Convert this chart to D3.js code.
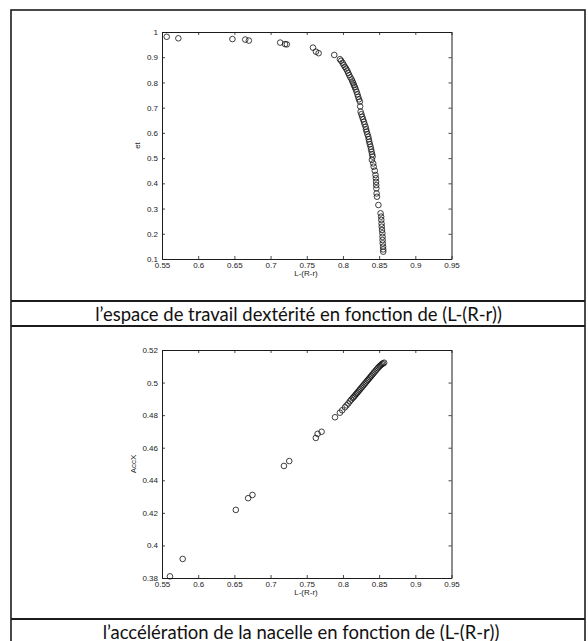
<!DOCTYPE html>
<html>
<head>
<meta charset="utf-8">
<script src="https://cdn.jsdelivr.net/npm/d3@7"></script>
<style>
  body { margin: 0; background: #fff; }
  svg { display: block; }
</style>
</head>
<body>
<svg id="page" width="588" height="641"></svg>
<script>
// chart 1: dexterity (et) vs L-(R-r)
const xDex = [0.5565, 0.5726, 0.6473, 0.665, 0.670, 0.7133, 0.720, 0.7225, 0.7586, 0.7627, 0.7664, 0.788,
  0.7958, 0.7975, 0.7995, 0.801, 0.8027, 0.8043, 0.8059, 0.8073, 0.8087, 0.8103, 0.812, 0.8131, 0.8142,
  0.8153, 0.8165, 0.8177, 0.8189, 0.820, 0.821, 0.8222, 0.8234, 0.8238, 0.8244, 0.8255, 0.8266, 0.8278,
  0.829, 0.830, 0.8313, 0.832, 0.8327, 0.8338, 0.835, 0.8357, 0.8363, 0.8372, 0.8382, 0.8389, 0.8396,
  0.8403, 0.841, 0.840, 0.8418, 0.8425, 0.844, 0.845, 0.8455, 0.8458, 0.846, 0.8462, 0.8465, 0.847,
  0.849, 0.852, 0.8528, 0.853, 0.8534, 0.8536, 0.854, 0.8545, 0.8547, 0.8548, 0.855, 0.8555, 0.8556, 0.8557];
const etDex = [0.981, 0.975, 0.972, 0.970, 0.966, 0.958, 0.952, 0.951, 0.938, 0.922, 0.916, 0.909,
  0.892, 0.886, 0.878, 0.870, 0.862, 0.855, 0.847, 0.838, 0.829, 0.820, 0.812, 0.804, 0.797,
  0.789, 0.781, 0.772, 0.763, 0.753, 0.743, 0.733, 0.724, 0.705, 0.684, 0.674, 0.664, 0.654,
  0.644, 0.634, 0.624, 0.614, 0.605, 0.595, 0.585, 0.575, 0.565, 0.555, 0.545, 0.535, 0.525,
  0.515, 0.506, 0.493, 0.479, 0.466, 0.450, 0.433, 0.420, 0.406, 0.393, 0.380, 0.360, 0.347,
  0.314, 0.281, 0.268, 0.255, 0.240, 0.228, 0.215, 0.202, 0.188, 0.175, 0.162, 0.149, 0.138, 0.129];

// chart 2: platform acceleration (AccX) vs L-(R-r)
const xAcc = [0.561, 0.5786, 0.652, 0.669, 0.675, 0.7185, 0.7258, 0.7625, 0.765, 0.7705, 0.789,
  0.7958, 0.799, 0.8027, 0.805, 0.8075, 0.8096, 0.8115, 0.8135, 0.815, 0.8165, 0.818, 0.8195, 0.821,
  0.8225, 0.824, 0.8255, 0.827, 0.8285, 0.830, 0.8315, 0.833, 0.8345, 0.836, 0.8375, 0.839, 0.8405,
  0.842, 0.8435, 0.845, 0.8465, 0.848, 0.8495, 0.851, 0.8525, 0.854, 0.8555, 0.857];
const accX = [0.381, 0.3917, 0.4218, 0.429, 0.431, 0.4488, 0.4518, 0.466, 0.4685, 0.4698, 0.4787,
  0.4815, 0.483, 0.4848, 0.486, 0.4872, 0.4885, 0.4895, 0.4905, 0.4912, 0.492, 0.4928, 0.4936, 0.4944,
  0.4952, 0.496, 0.4968, 0.4976, 0.4984, 0.4992, 0.500, 0.5008, 0.5016, 0.5024, 0.5032, 0.504, 0.5048,
  0.5056, 0.5064, 0.5072, 0.508, 0.5088, 0.5095, 0.5102, 0.5108, 0.5114, 0.5118, 0.5122];

const xTicks = [0.55, 0.6, 0.65, 0.7, 0.75, 0.8, 0.85, 0.9, 0.95];
const etTicks = [0.1, 0.2, 0.3, 0.4, 0.5, 0.6, 0.7, 0.8, 0.9, 1];
const accTicks = [0.38, 0.4, 0.42, 0.44, 0.46, 0.48, 0.5, 0.52];

const captions = [
  "l\u2019espace de travail dext\u00e9rit\u00e9 en fonction de (L-(R-r))",
  "l\u2019acc\u00e9l\u00e9ration de la nacelle en fonction de (L-(R-r))"
];

const svg = d3.select("#page");
const ink = "#1c1c1c";

// table frame
const frame = { left: 11, right: 585, top: 10 };
const rows = [301, 326, 619];
svg.append("rect")
  .attr("x", frame.left).attr("y", frame.top)
  .attr("width", frame.right - frame.left).attr("height", 660)
  .attr("fill", "none").attr("stroke", ink).attr("stroke-width", 1.6);
svg.selectAll(".rowline").data(rows).enter().append("line")
  .attr("x1", frame.left).attr("x2", frame.right)
  .attr("y1", d => d).attr("y2", d => d)
  .attr("stroke", ink).attr("stroke-width", 1.8);

// captions, fitted to the scanned widths
const capSpec = [
  { text: captions[0], cx: 298.5, y: 314, w: 407 },
  { text: captions[1], cx: 301, y: 631.5, w: 397 }
];
capSpec.forEach(c => {
  const t = svg.append("text")
    .attr("x", c.cx).attr("y", c.y)
    .attr("text-anchor", "middle").attr("dominant-baseline", "central")
    .attr("font-family", "Lato, 'Open Sans', sans-serif")
    .attr("font-size", 16).attr("fill", "#111")
    .text(c.text);
  const len = t.node().getComputedTextLength();
  t.attr("font-size", 16 * c.w / len);
});

function scatter(opt) {
  const x = d3.scaleLinear().domain([0.55, 0.95]).range([162, 451.5]);
  const y = d3.scaleLinear().domain(opt.yDomain).range([opt.bottom, opt.top]);
  const g = svg.append("g");

  const fmt = d3.format("");
  const font = g => g.selectAll("text")
    .attr("font-family", "'Liberation Sans', Arial, sans-serif")
    .attr("font-size", 8).attr("fill", "#222");
  const style = g => {
    g.select(".domain").attr("stroke", ink).attr("stroke-width", 1);
    g.selectAll(".tick line").attr("stroke", ink).attr("stroke-width", 0.8);
  };

  g.append("g").attr("transform", `translate(0,${opt.bottom})`)
    .call(d3.axisBottom(x).tickValues(xTicks).tickFormat(fmt).tickSizeInner(-3).tickSizeOuter(0).tickPadding(3))
    .call(style).call(font);
  g.append("g").attr("transform", `translate(0,${opt.top})`)
    .call(d3.axisTop(x).tickValues(xTicks).tickFormat("").tickSizeInner(-3).tickSizeOuter(0))
    .call(style);
  g.append("g").attr("transform", `translate(162,0)`)
    .call(d3.axisLeft(y).tickValues(opt.yTicks).tickFormat(fmt).tickSizeInner(-3).tickSizeOuter(0).tickPadding(4))
    .call(style).call(font);
  g.append("g").attr("transform", `translate(451.5,0)`)
    .call(d3.axisRight(y).tickValues(opt.yTicks).tickFormat("").tickSizeInner(-3).tickSizeOuter(0))
    .call(style);

  g.append("text")
    .attr("x", 306).attr("y", opt.bottom + 17)
    .attr("text-anchor", "middle")
    .attr("font-family", "'Liberation Sans', Arial, sans-serif")
    .attr("font-size", 8).attr("fill", "#222")
    .text("L-(R-r)");
  g.append("text")
    .attr("transform", `translate(${opt.ylabX},${(opt.top + opt.bottom) / 2}) rotate(-90)`)
    .attr("text-anchor", "middle").attr("dominant-baseline", "central")
    .attr("font-family", "'Liberation Sans', Arial, sans-serif")
    .attr("font-size", 8).attr("fill", "#222")
    .text(opt.ylab);

  g.selectAll("circle").data(opt.xs.map((v, i) => [v, opt.ys[i]])).enter().append("circle")
    .attr("cx", d => x(d[0])).attr("cy", d => y(d[1]))
    .attr("r", 2.8).attr("fill", "none")
    .attr("stroke", "#111").attr("stroke-width", 0.8);
}

scatter({ xs: xDex, ys: etDex, yDomain: [0.1, 1], yTicks: etTicks, top: 32, bottom: 259, ylab: "et", ylabX: 137 });
scatter({ xs: xAcc, ys: accX, yDomain: [0.38, 0.52], yTicks: accTicks, top: 350, bottom: 578, ylab: "AccX", ylabX: 133 });
</script>
</body>
</html>
